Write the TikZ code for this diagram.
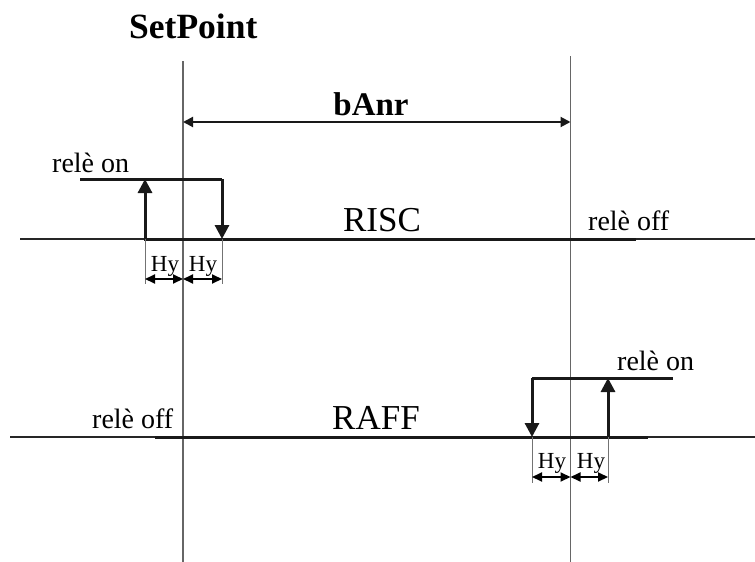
\documentclass[tikz,border=0pt]{standalone}
\usepackage{fontspec}
\setmainfont{Liberation Serif}
\usetikzlibrary{arrows.meta}
\begin{document}
\begin{tikzpicture}[x=1pt,y=-1pt,
  axisline/.style={draw=black!60, line width=1.2pt},
  baseline/.style={draw=black!85, line width=1.2pt},
  relay/.style={draw=black!90, line width=3pt},
  relarrow/.style={relay, -{Triangle[length=14pt,width=14pt]}},
  hytick/.style={draw=black!55, line width=1pt},
  hyarrow/.style={draw=black, line width=2pt, {Triangle[length=10pt,width=9pt]}-{Triangle[length=10pt,width=9pt]}},
  bandarrow/.style={draw=black!90, line width=2pt, {Triangle[length=10pt,width=10pt]}-{Triangle[length=10pt,width=10pt]}},
  bigtxt/.style={inner sep=0pt, anchor=base, font=\fontsize{35}{40}\selectfont},
  boldtxt/.style={inner sep=0pt, font=\bfseries\fontsize{#1}{#1}\selectfont},
  reltxt/.style={inner sep=0pt, anchor=base west, font=\fontsize{28}{32}\selectfont},
  hytxt/.style={inner sep=0pt, anchor=base, font=\fontsize{23}{26}\selectfont}
]
\useasboundingbox (0,0) rectangle (755,562);

% vertical reference lines
\coordinate (spT) at (183,61);
\coordinate (spB) at (183,562);
\coordinate (bnT) at (570.5,56);
\coordinate (bnB) at (570.5,562);
\draw[axisline] (spT) -- (spB);
\draw[axisline] (bnT) -- (bnB);

% titles
\node[boldtxt=35.5, anchor=base west] (setpoint) at (129,38) {SetPoint};
\node[boldtxt=33, anchor=base] (banr) at (371,115) {bAnr};
\coordinate (bA) at (183,122);
\coordinate (bB) at (570.5,122);
\draw[bandarrow] (bA) -- (bB);

% ---------------- RISC ----------------
\coordinate (rL) at (20,239);
\coordinate (rR) at (755,239);
\coordinate (rtL) at (144,239);
\coordinate (rtR) at (636,239);
\coordinate (rUpB) at (145,239);
\coordinate (rUpT) at (145,179);
\coordinate (rTopL) at (80,179);
\coordinate (rTopR) at (222,179);
\coordinate (rDnB) at (222,239);
\draw[baseline] (rL) -- (rR);
\draw[relay] (rtL) -- (rtR);
\draw[relay] (rTopL) -- (rTopR);
\draw[relarrow] (rUpB) -- (rUpT);
\draw[relarrow] (rTopR) -- (rDnB);

\node[reltxt] (rOn) at (52,172) {relè on};
\node[bigtxt] (risc) at (382,231) {RISC};
\node[reltxt] (rOff) at (588,230) {relè off};

\coordinate (rt1) at (145,284);
\coordinate (rt2) at (222,284);
\coordinate (rh1) at (145,279);
\coordinate (rh2) at (183,279);
\coordinate (rh3) at (222,279);
\draw[hytick] (rUpB) -- (rt1);
\draw[hytick] (rDnB) -- (rt2);
\draw[hyarrow] (rh1) -- (rh2);
\draw[hyarrow] (rh2) -- (rh3);
\node[hytxt] (rhy1) at (165,271) {Hy};
\node[hytxt] (rhy2) at (203,271) {Hy};

% ---------------- RAFF ----------------
\coordinate (aL) at (10,437);
\coordinate (aR) at (755,437);
\coordinate (atL) at (155,437);
\coordinate (atR) at (648,437);
\coordinate (aTopL) at (532,378);
\coordinate (aTopR) at (673,378);
\coordinate (aDnB) at (532,437);
\coordinate (aUpB) at (608,437);
\coordinate (aUpT) at (608,378);
\draw[baseline] (aL) -- (aR);
\draw[relay] (atL) -- (atR);
\draw[relay] (aTopL) -- (aTopR);
\draw[relarrow] (aTopL) -- (aDnB);
\draw[relarrow] (aUpB) -- (aUpT);

\node[reltxt] (aOff) at (92,428) {relè off};
\node[bigtxt] (raff) at (376,429) {RAFF};
\node[reltxt] (aOn) at (617,370) {relè on};

\coordinate (at1) at (532,483);
\coordinate (at2) at (608,483);
\coordinate (ah1) at (532,477);
\coordinate (ah2) at (570.5,477);
\coordinate (ah3) at (608,477);
\draw[hytick] (aDnB) -- (at1);
\draw[hytick] (aUpB) -- (at2);
\draw[hyarrow] (ah1) -- (ah2);
\draw[hyarrow] (ah2) -- (ah3);
\node[hytxt] (ahy1) at (552,468) {Hy};
\node[hytxt] (ahy2) at (591,468) {Hy};
\end{tikzpicture}
\end{document}
